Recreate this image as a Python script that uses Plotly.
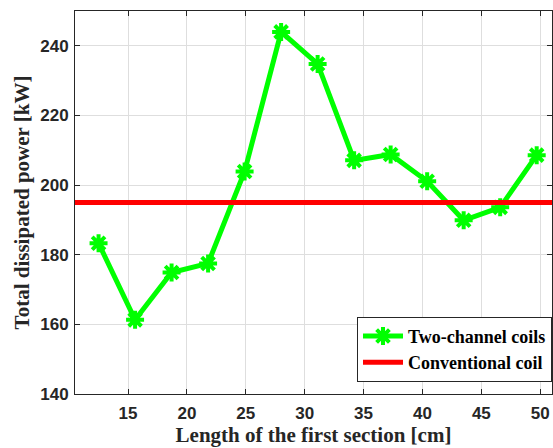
import plotly.graph_objects as go

length_cm = [12.5, 15.6, 18.7, 21.8, 24.9, 28.0, 31.1, 34.2, 37.3, 40.4, 43.5, 46.6, 49.7]
two_channel_kw = [183.3, 161.3, 174.9, 177.5, 203.9, 244.0, 234.8, 207.1, 208.8, 201.1, 189.9, 193.6, 208.6]
conventional_kw = 195.0
x_range = [10.5, 51.0]
y_range = [140, 250]
x_ticks = [15, 20, 25, 30, 35, 40, 45, 50]
y_ticks = [140, 160, 180, 200, 220, 240]

fig = go.Figure()
fig.add_trace(go.Scatter(
    x=length_cm, y=two_channel_kw, mode="lines+markers", name="Two-channel coils",
    line=dict(color="#00ff00", width=5),
    marker=dict(symbol="asterisk-open", size=15, color="#00ff00",
                line=dict(color="#00ff00", width=4)),
))
fig.add_trace(go.Scatter(
    x=x_range, y=[conventional_kw, conventional_kw], mode="lines", name="Conventional coil",
    line=dict(color="#ff0000", width=5),
))

axis_common = dict(
    showline=True, linecolor="#262626", linewidth=1, mirror="ticks",
    ticks="inside", ticklen=5, tickcolor="#262626",
    showgrid=True, gridcolor="#dedede", gridwidth=1, zeroline=False,
    automargin=False,
    tickfont=dict(family="Liberation Sans, Arial", size=17, color="#262626", weight=700),
)
title_font = dict(family="Liberation Serif, Times New Roman", size=21, color="#262626", weight=700)

fig.update_xaxes(range=x_range, tickvals=x_ticks, ticklabelstandoff=4,
                 title=dict(text="Length of the first section [cm]", standoff=3, font=title_font),
                 **axis_common)
fig.update_yaxes(range=y_range, tickvals=y_ticks, ticklabelstandoff=2,
                 title=dict(text="Total dissipated power [kW]", standoff=4, font=title_font),
                 **axis_common)

fig.update_layout(
    width=553, height=448,
    margin=dict(l=75, r=1, t=11, b=54),
    plot_bgcolor="white", paper_bgcolor="white",
    showlegend=True,
    legend=dict(x=1, xanchor="right", y=0.032, yanchor="bottom",
                bgcolor="white", bordercolor="#262626", borderwidth=1,
                font=dict(family="Liberation Serif, Times New Roman", size=18,
                          color="black", weight=700),
                tracegroupgap=0, itemwidth=40),
)

fig.write_html(
    "out.html",
    config={"displayModeBar": False},
    post_script="document.body.style.margin='0';document.body.style.overflow='hidden';",
)
